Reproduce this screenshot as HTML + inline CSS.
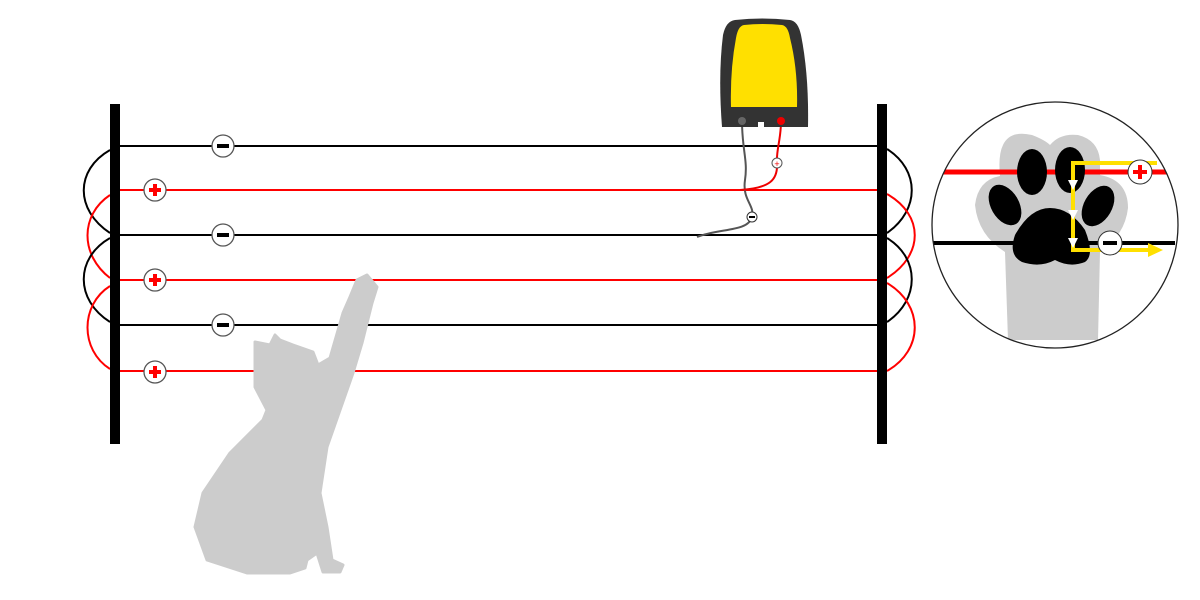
<!DOCTYPE html>
<html><head><meta charset="utf-8"><style>html,body{margin:0;padding:0;background:#fff;width:1200px;height:600px;overflow:hidden}</style></head>
<body>
<svg width="1200" height="600" viewBox="0 0 1200 600" xmlns="http://www.w3.org/2000/svg" font-family="Liberation Sans, sans-serif">
<g stroke-width="2" fill="none">
<line x1="115" y1="146" x2="882" y2="146" stroke="#000"/>
<line x1="115" y1="190" x2="882" y2="190" stroke="#f00"/>
<line x1="115" y1="235" x2="882" y2="235" stroke="#000"/>
<line x1="115" y1="280" x2="882" y2="280" stroke="#f00"/>
<line x1="115" y1="325" x2="882" y2="325" stroke="#000"/>
<line x1="115" y1="371" x2="882" y2="371" stroke="#f00"/>
<path d="M110 150 C75 170 75 210 110 233" stroke="#000"/>
<path d="M110 195 C80 215 80 255 110 278" stroke="#f00"/>
<path d="M110 238 C75 258 75 300 110 322" stroke="#000"/>
<path d="M110 286 C80 305 80 350 110 369" stroke="#f00"/>
<path d="M887 149 C920 170 920 210 887 233" stroke="#000"/>
<path d="M887 194 C924 215 924 255 887 278" stroke="#f00"/>
<path d="M887 238 C920 258 920 300 887 322" stroke="#000"/>
<path d="M887 283 C924 305 924 350 887 371" stroke="#f00"/>
</g>
<rect x="110" y="104" width="10" height="340" fill="#000"/>
<rect x="877" y="104" width="10" height="340" fill="#000"/>
<g stroke="#555" stroke-width="1.3" fill="#fff">
<circle cx="223" cy="146" r="11"/><circle cx="155" cy="190" r="11"/>
<circle cx="223" cy="235" r="11"/><circle cx="155" cy="280" r="11"/>
<circle cx="223" cy="325" r="11"/><circle cx="155" cy="372" r="11"/>
</g>
<g fill="#000"><rect x="217" y="144" width="12" height="4"/><rect x="217" y="233" width="12" height="4"/><rect x="217" y="323" width="12" height="4"/></g>
<g fill="#f00">
<rect x="149" y="188" width="12" height="4"/><rect x="153" y="184" width="4" height="12"/>
<rect x="149" y="278" width="12" height="4"/><rect x="153" y="274" width="4" height="12"/>
<rect x="149" y="370" width="12" height="4"/><rect x="153" y="366" width="4" height="12"/>
</g>
<path d="M742 121 C742 150 748 160 745 180 C742 200 755 205 752 217 C748 232 720 228 697 237" stroke="#555" stroke-width="2" fill="none"/>
<path d="M781 121 C781 140 776 150 777 163 C778 180 770 188 740 190" stroke="#e00" stroke-width="2" fill="none"/>
<circle cx="777" cy="163" r="5" fill="#fff" stroke="#555"/><text x="777" y="167" font-size="9" text-anchor="middle" fill="#e00">+</text>
<circle cx="752" cy="217" r="5" fill="#fff" stroke="#333"/><rect x="749" y="216" width="6" height="2" fill="#000"/>
<path d="M735 20 Q762 17 790 20 Q798 21 801 35 Q809 75 808 127 L722 127 Q718 75 723 35 Q726 21 735 20 Z" fill="#333"/>
<path d="M744 25 Q762 23 782 25 Q788 26 790 38 Q798 70 797 107 L731 107 Q730 70 736 38 Q738 26 744 25 Z" fill="#ffe000"/>
<rect x="758" y="122" width="6" height="6" fill="#fff"/>
<circle cx="742" cy="121" r="4" fill="#666"/><circle cx="781" cy="121" r="4" fill="#e00"/>
<path d="M367 275 L377 287 L372 303 L362 343 L353 373 L340 410 L327 447 L320 493 L327 527 L332 560 L343 565 L340 572 L323 572 L317 553 L307 560 L305 568 L290 573 L247 573 L207 560 L195 527 L203 493 L230 453 L263 420 L267 410 L255 387 L255 342 L270 345 L275 335 L280 340 L293 345 L313 352 L318 365 L330 358 L343 313 L350 297 L357 280 Z" fill="#ccc" stroke="#ccc" stroke-width="3" stroke-linejoin="round"/>
<defs><clipPath id="c"><circle cx="1055" cy="225" r="123"/></clipPath></defs>
<g clip-path="url(#c)">
<path d="M1003 145 Q1010 130 1032 135 Q1045 140 1050 145 Q1060 133 1078 135 Q1098 140 1100 160 L1100 175 Q1128 180 1128 208 Q1125 235 1100 252 L1098 340 L1008 340 L1005 252 Q978 235 975 205 Q978 180 1000 176 Q998 155 1003 145 Z" fill="#ccc"/>
<line x1="930" y1="172" x2="1170" y2="172" stroke="#f00" stroke-width="5"/>
<line x1="930" y1="243" x2="1175" y2="243" stroke="#000" stroke-width="4"/>
<ellipse cx="1032" cy="172" rx="15" ry="23" fill="#000"/>
<ellipse cx="1070" cy="170" rx="15" ry="23" fill="#000"/>
<ellipse cx="1005" cy="205" rx="14" ry="22" transform="rotate(-30 1005 205)" fill="#000"/>
<ellipse cx="1098" cy="206" rx="14" ry="22" transform="rotate(30 1098 206)" fill="#000"/>
<path d="M1050 208 Q1070 208 1085 230 Q1095 255 1085 262 Q1070 268 1055 260 Q1040 268 1022 262 Q1008 255 1015 235 Q1030 208 1050 208 Z" fill="#000"/>
<path d="M1157 163 L1073 163 L1073 250 L1150 250" stroke="#ffe000" stroke-width="4" fill="none"/>
<path d="M1148 243 L1163 250 L1148 257 Z" fill="#ffe000"/>
<g fill="#fff"><path d="M1068 180 L1078 180 L1073 190 Z"/><path d="M1068 210 L1078 210 L1073 220 Z"/><path d="M1068 238 L1078 238 L1073 248 Z"/></g>
<circle cx="1140" cy="172" r="12" fill="#fff" stroke="#333"/>
<rect x="1133" y="170" width="14" height="4" fill="#f00"/><rect x="1138" y="165" width="4" height="14" fill="#f00"/>
<circle cx="1110" cy="243" r="12" fill="#fff" stroke="#333"/><rect x="1103" y="241" width="14" height="4" fill="#000"/>
</g>
<circle cx="1055" cy="225" r="123" fill="none" stroke="#222" stroke-width="1.3"/>
</svg>
</body></html>
